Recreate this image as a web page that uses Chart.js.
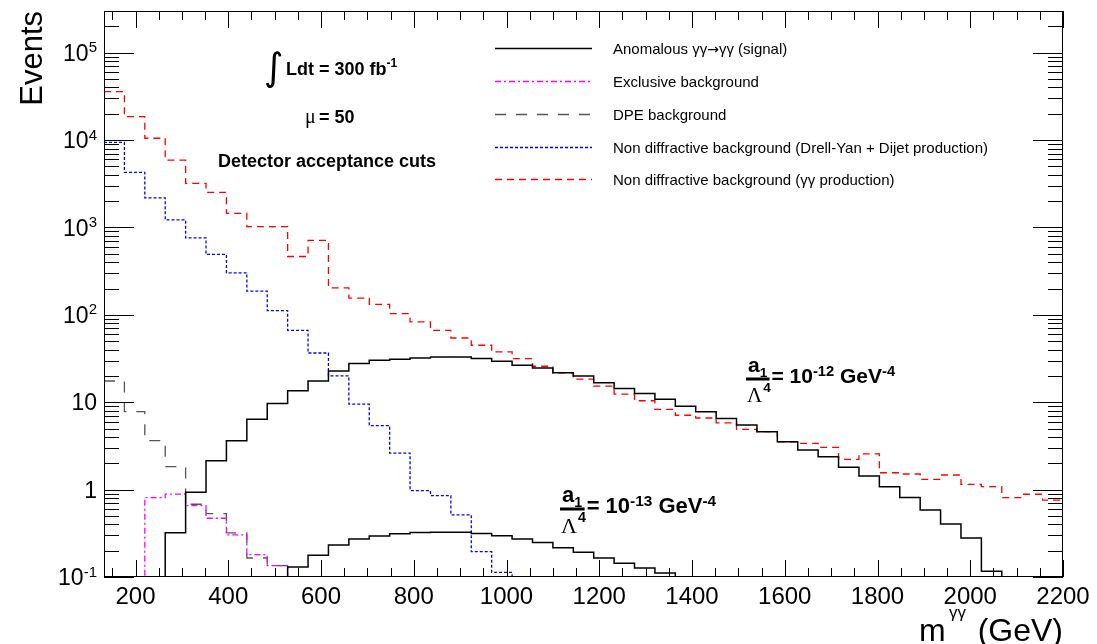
<!DOCTYPE html>
<html>
<head>
<meta charset="utf-8">
<script src="https://cdn.jsdelivr.net/npm/chart.js@4"></script>
<style>
  html, body { margin: 0; padding: 0; background: #fff; }
  canvas { display: block; }
</style>
</head>
<body>
<canvas id="grafico" width="1097" height="644"></canvas>
<script>
// bordas dos bins em m_gg (GeV), bins de 44 GeV
const binEdges = [132, 176, 220, 264, 308, 352, 396, 440, 484, 528, 572, 616, 660, 704, 748, 792,
  836, 880, 924, 968, 1012, 1056, 1100, 1144, 1188, 1232, 1276, 1320, 1364, 1408, 1452, 1496,
  1540, 1584, 1628, 1672, 1716, 1760, 1804, 1848, 1892, 1936, 1980, 2024, 2068, 2112, 2156, 2200];

// eventos por bin (0 = bin vazio)
const sinal12 = [0, 0, 0, 0.32, 0.93, 2.14, 3.63, 6.37, 9.7, 13.5, 17.5, 22.8, 27.7, 30.2, 31, 32,
  33, 33, 31.6, 29.4, 26.5, 24.7, 21.7, 19.9, 16.7, 14.4, 12.6, 10.8, 9.0, 7.8, 6.5, 5.5,
  4.6, 3.53, 2.84, 2.38, 1.8, 1.43, 1.08, 0.81, 0.586, 0.403, 0.279, 0.116, 0, 0, 0];
const sinal13 = [0, 0, 0, 0, 0, 0, 0, 0, 0, 0.13, 0.177, 0.232, 0.272, 0.295, 0.312, 0.324,
  0.326, 0.325, 0.315, 0.296, 0.272, 0.248, 0.216, 0.192, 0.165, 0.144, 0.127, 0.111, 0, 0, 0, 0,
  0, 0, 0, 0, 0, 0, 0, 0, 0, 0, 0, 0, 0, 0, 0];
const exclusivo = [0, 0, 0.81, 0.89, 0.656, 0.47, 0.304, 0.18, 0.135, 0, 0, 0, 0, 0, 0, 0,
  0, 0, 0, 0, 0, 0, 0, 0, 0, 0, 0, 0, 0, 0, 0, 0,
  0, 0, 0, 0, 0, 0, 0, 0, 0, 0, 0, 0, 0, 0, 0];
const dpe = [17.5, 7.8, 3.63, 1.83, 0.68, 0.53, 0.32, 0.165, 0.135, 0, 0, 0, 0, 0, 0, 0,
  0, 0, 0, 0, 0, 0, 0, 0, 0, 0, 0, 0, 0, 0, 0, 0,
  0, 0, 0, 0, 0, 0, 0, 0, 0, 0, 0, 0, 0, 0, 0];
const drellYanDijet = [9400, 4270, 2180, 1220, 760, 491, 303, 187, 112, 66.5, 36.6, 20, 9.5, 5.4, 2.62, 0.975,
  0.855, 0.514, 0.195, 0.113, 0, 0, 0, 0, 0, 0, 0, 0, 0, 0, 0, 0,
  0, 0, 0, 0, 0, 0, 0, 0, 0, 0, 0, 0, 0, 0, 0];
const gamaGama = [35900, 18600, 10500, 5900, 3200, 2520, 1450, 1020, 1020, 465, 710, 204, 155, 132, 103, 83,
  66.5, 54.3, 44.9, 37.6, 31.6, 25.8, 21.7, 18.4, 15.3, 12.4, 10.4, 8.3, 7.1, 6.6, 5.8, 4.9,
  4.6, 3.53, 3.39, 3.05, 2.22, 2.56, 1.56, 1.51, 1.31, 1.47, 1.15, 1.08, 0.81, 0.885, 0.76];

const xTicks = [200, 400, 600, 800, 1000, 1200, 1400, 1600, 1800, 2000, 2200];
const yTicks = [0.1, 1, 10, 100, 1000, 10000, 100000];
const yTickBase = ['10', '1', '10', '10', '10', '10', '10'];
const yTickExp = ['-1', '', '', '2', '3', '4', '5'];

const X_MIN = 132, X_MAX = 2200, Y_MIN = 0.1, Y_MAX = 3e5;

const SANS = '"Liberation Sans", Arial, sans-serif';
const SERIF = '"Liberation Serif", "Times New Roman", serif';

// histograma em degraus; bins vazios ficam no fundo do quadro, como no ROOT
function histo(valores) {
  const pts = valores.map((v, i) => ({ x: binEdges[i], y: v > 0 ? v : Y_MIN }));
  pts.push({ x: binEdges[binEdges.length - 1], y: pts[pts.length - 1].y });
  return pts;
}

function texto(ctx, txt, x, y, size, bold, serif, align) {
  ctx.font = (bold ? 'bold ' : '') + size + 'px ' + (serif ? SERIF : SANS);
  ctx.textAlign = align || 'left';
  ctx.textBaseline = 'alphabetic';
  ctx.fillText(txt, x, y);
  return ctx.measureText(txt).width;
}

function fracLabel(ctx, x0, yBar, s, expoente) {
  const barW = s * 1.12;
  ctx.fillRect(x0, yBar - 1.5, barW, 3);
  let w = texto(ctx, 'a', x0 + 2, yBar - 0.32 * s, s, true);
  texto(ctx, '1', x0 + 2 + w, yBar - 0.1 * s, s * 0.65, true);
  w = texto(ctx, 'Λ', x0 + 1, yBar + 1.08 * s, s, false, true);
  texto(ctx, '4', x0 + 2 + w, yBar + 0.6 * s, s * 0.65, true);
  let cx = x0 + barW + 2;
  const base = yBar + 0.2 * s;
  cx += texto(ctx, '= 10', cx, base, s, true);
  cx += texto(ctx, expoente, cx, base - 0.32 * s, s * 0.7, true);
  cx += texto(ctx, ' GeV', cx, base, s, true);
  texto(ctx, '-4', cx, base - 0.32 * s, s * 0.7, true);
}

const estiloRoot = {
  id: 'estiloRoot',
  afterDatasetsDraw(chart) {
    const { ctx, chartArea: a, scales: { x, y } } = chart;
    ctx.save();
    ctx.strokeStyle = '#000';
    ctx.fillStyle = '#000';
    ctx.lineWidth = 1;
    ctx.setLineDash([]);

    // quadro
    ctx.strokeRect(a.left + 0.5, a.top + 0.5, a.right - a.left - 1, a.bottom - a.top - 1);

    // marcas para dentro nos quatro lados
    ctx.beginPath();
    for (let v = 150; v <= X_MAX; v += 50) {
      const px = Math.round(x.getPixelForValue(v)) + 0.5;
      const len = v % 200 === 0 ? 17 : 9;
      ctx.moveTo(px, a.bottom); ctx.lineTo(px, a.bottom - len);
      ctx.moveTo(px, a.top); ctx.lineTo(px, a.top + len);
    }
    for (let d = -1; d <= 5; d++) {
      for (let m = 1; m <= 9; m++) {
        const v = m * Math.pow(10, d);
        if (v < Y_MIN || v > Y_MAX) continue;
        const py = Math.round(y.getPixelForValue(v)) + 0.5;
        const len = m === 1 ? 30 : 15;
        ctx.moveTo(a.left, py); ctx.lineTo(a.left + len, py);
        ctx.moveTo(a.right, py); ctx.lineTo(a.right - len, py);
      }
    }
    ctx.stroke();

    // rótulos do eixo y (10 com expoente)
    yTicks.forEach((v, i) => {
      const py = y.getPixelForValue(v);
      ctx.font = '23px ' + SANS;
      const wb = ctx.measureText(yTickBase[i]).width;
      ctx.font = '15px ' + SANS;
      const we = yTickExp[i] ? ctx.measureText(yTickExp[i]).width : 0;
      const x0 = 97 - wb - we;
      texto(ctx, yTickBase[i], x0, py + 8.2, 23);
      if (yTickExp[i]) texto(ctx, yTickExp[i], x0 + wb, py - 0.5, 15);
    });

    // títulos dos eixos
    ctx.save();
    ctx.translate(42, 11);
    ctx.rotate(-Math.PI / 2);
    texto(ctx, 'Events', 0, 0, 31, false, false, 'right');
    ctx.restore();
    texto(ctx, 'm', 919, 641, 32);
    texto(ctx, 'γγ', 949, 618, 17);
    texto(ctx, '(GeV)', a.right, 641, 32, false, false, 'right');

    // legenda
    const legY = [48, 81, 114, 147, 179];
    let k = 0;
    chart.data.datasets.forEach(ds => {
      if (!ds.label) return;
      const ly = legY[k++] + 0.5;
      ctx.save();
      ctx.strokeStyle = ds.borderColor;
      ctx.lineWidth = ds.borderWidth;
      ctx.setLineDash(ds.borderDash || []);
      ctx.beginPath();
      ctx.moveTo(495, ly); ctx.lineTo(592, ly);
      ctx.stroke();
      ctx.restore();
      // a seta do sinal fica pequena na Liberation, usa DejaVu só para ela
      const partes = ds.label.split('→');
      let tx = 613;
      partes.forEach((p, j) => {
        if (j > 0) {
          ctx.font = '14px "DejaVu Sans", sans-serif';
          ctx.textAlign = 'left';
          ctx.fillText('→', tx, ly + 5);
          tx += ctx.measureText('→').width;
        }
        tx += texto(ctx, p, tx, ly + 5.5, 15);
      });
    });

    // textos
    ctx.font = '38px "DejaVu Sans", sans-serif';
    ctx.textAlign = 'left';
    ctx.fillText('∫', 264, 80);
    let cx = 286;
    cx += texto(ctx, 'Ldt = 300 fb', cx, 75, 18, true);
    texto(ctx, '-1', cx, 66.5, 12, true);
    texto(ctx, 'μ', 305, 123, 20, false, true);
    texto(ctx, '= 50', 319, 123, 18, true);
    texto(ctx, 'Detector acceptance cuts', 218, 167, 18, true);

    fracLabel(ctx, 746, 379, 21, '-12');
    fracLabel(ctx, 560, 509, 22, '-13');

    ctx.restore();
  }
};

new Chart(document.getElementById('grafico'), {
  type: 'line',
  data: {
    datasets: [
      {
        label: 'Anomalous γγ→γγ (signal)',
        data: histo(sinal12),
        borderColor: '#000000',
        borderWidth: 1.5
      },
      {
        label: '',
        data: histo(sinal13),
        borderColor: '#000000',
        borderWidth: 1.5
      },
      {
        label: 'Exclusive background',
        data: histo(exclusivo),
        borderColor: '#ff00ff',
        borderWidth: 1.3,
        borderDash: [6, 3, 2, 3]
      },
      {
        label: 'DPE background',
        data: histo(dpe),
        borderColor: '#555555',
        borderWidth: 1.3,
        borderDash: [11, 10]
      },
      {
        label: 'Non diffractive background (Drell-Yan + Dijet production)',
        data: histo(drellYanDijet),
        borderColor: '#0000ff',
        borderWidth: 1.3,
        borderDash: [3, 2]
      },
      {
        label: 'Non diffractive background (γγ production)',
        data: histo(gamaGama),
        borderColor: '#ff0000',
        borderWidth: 1.3,
        borderDash: [7, 5]
      }
    ]
  },
  options: {
    responsive: false,
    animation: false,
    devicePixelRatio: 1,
    layout: { padding: { top: 11, right: 34, left: 0, bottom: 0 } },
    elements: { point: { radius: 0 }, line: { stepped: 'before', tension: 0, fill: false } },
    plugins: { legend: { display: false }, tooltip: { enabled: false } },
    scales: {
      x: {
        type: 'linear',
        min: X_MIN,
        max: X_MAX,
        afterBuildTicks: s => { s.ticks = xTicks.map(v => ({ value: v })); },
        afterFit: s => { s.height = 67; },
        ticks: {
          font: { size: 24, family: SANS },
          color: '#000',
          padding: 6,
          maxRotation: 0,
          autoSkip: false,
          callback: v => String(v)
        },
        grid: { display: false, drawTicks: false },
        border: { display: false }
      },
      y: {
        type: 'logarithmic',
        min: Y_MIN,
        max: Y_MAX,
        afterFit: s => { s.width = 104; },
        ticks: { display: false },
        grid: { display: false, drawTicks: false },
        border: { display: false }
      }
    }
  },
  plugins: [estiloRoot]
});
</script>
</body>
</html>
